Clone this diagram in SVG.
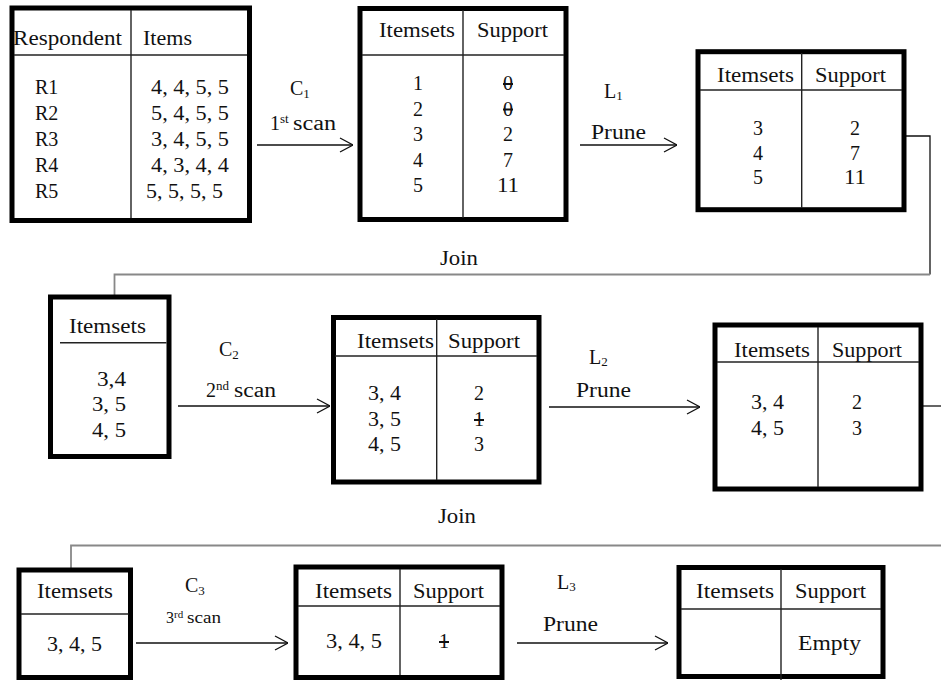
<svg xmlns="http://www.w3.org/2000/svg" width="941" height="681" viewBox="0 0 941 681">
<defs>
<style>
.box{fill:#fff;stroke:#000;stroke-width:5}
.in{stroke:#222;stroke-width:1.4;fill:none}
.t{font-family:'Liberation Serif',serif;font-size:20px;fill:#111}
.s{font-size:13px}
.sm{font-size:16px}
.c{text-anchor:middle}
.x{text-decoration:line-through}
.arr{stroke:#111;stroke-width:1.3;fill:none}
.join{stroke:#888;stroke-width:1.8;fill:none}
</style>
<marker id="ah" viewBox="0 0 14 16" refX="14" refY="8" markerWidth="14" markerHeight="16" markerUnits="userSpaceOnUse" orient="auto">
<path d="M1,1 L14,8 L1,15" fill="none" stroke="#111" stroke-width="1.3"/>
</marker>
</defs>
<rect width="941" height="681" fill="#fff"/>
<g font-family="Liberation Serif">
<g id="connectors">
<line class="arr" x1="257" y1="145" x2="353" y2="145" marker-end="url(#ah)"/>
<line class="arr" x1="580" y1="145" x2="677" y2="145" marker-end="url(#ah)"/>
<line class="arr" x1="178" y1="406" x2="330" y2="406" marker-end="url(#ah)"/>
<line class="arr" x1="549" y1="407" x2="700" y2="407" marker-end="url(#ah)"/>
<line class="arr" x1="136" y1="643" x2="288" y2="643" marker-end="url(#ah)"/>
<line class="arr" x1="517" y1="643" x2="668" y2="643" marker-end="url(#ah)"/>
<path class="arr" d="M906,136 H930 V274.5"/>
<path class="join" d="M930,274.5 H114.5 V295"/>
<path class="arr" d="M923,406 H941"/>
<path class="join" d="M941,545.5 H71 V568"/>
<text class="t" x="440" y="265" textLength="38" lengthAdjust="spacingAndGlyphs">Join</text>
<text class="t" x="438" y="523" textLength="38" lengthAdjust="spacingAndGlyphs">Join</text>
<text class="t" x="290" y="95">C<tspan class="s" dy="3">1</tspan></text>
<text class="t" x="270" y="130">1<tspan class="s" dy="-7">st</tspan><tspan x="293" y="130" textLength="43" lengthAdjust="spacingAndGlyphs">scan</tspan></text>
<text class="t" x="604" y="98">L<tspan class="s" dy="2">1</tspan></text>
<text class="t" x="591" y="139" textLength="55" lengthAdjust="spacingAndGlyphs">Prune</text>
<text class="t" x="219" y="356">C<tspan class="s" dy="3">2</tspan></text>
<text class="t" x="206" y="397">2<tspan class="s" dy="-7">nd</tspan><tspan x="234" y="397" textLength="42" lengthAdjust="spacingAndGlyphs">scan</tspan></text>
<text class="t" x="589" y="364">L<tspan class="s" dy="2">2</tspan></text>
<text class="t" x="576" y="397" textLength="55" lengthAdjust="spacingAndGlyphs">Prune</text>
<text class="t" x="185" y="592">C<tspan class="s" dy="3">3</tspan></text>
<text class="t sm" x="166" y="623">3<tspan style="font-size:11px" dy="-5">rd</tspan><tspan x="187" y="623" textLength="34" lengthAdjust="spacingAndGlyphs">scan</tspan></text>
<text class="t" x="557" y="589">L<tspan class="s" dy="2">3</tspan></text>
<text class="t" x="543" y="631" textLength="55" lengthAdjust="spacingAndGlyphs">Prune</text>
</g>

<g id="db">
<rect class="box" x="12" y="8" width="237.5" height="212.5"/>
<line class="in" x1="131" y1="10" x2="131" y2="218"/>
<line class="in" x1="14" y1="55" x2="247" y2="55"/>
<text class="t" x="13" y="45" textLength="109" lengthAdjust="spacingAndGlyphs">Respondent</text>
<text class="t" x="143" y="45" textLength="49" lengthAdjust="spacingAndGlyphs">Items</text>
<text class="t" x="35" y="94.3">R1</text>
<text class="t" x="35" y="120.3">R2</text>
<text class="t" x="35" y="146.3">R3</text>
<text class="t" x="35" y="172.3">R4</text>
<text class="t" x="35" y="198.3">R5</text>
<text class="t" x="151" y="94.3" textLength="78" lengthAdjust="spacingAndGlyphs">4, 4, 5, 5</text>
<text class="t" x="151" y="120.3" textLength="78" lengthAdjust="spacingAndGlyphs">5, 4, 5, 5</text>
<text class="t" x="151" y="146.3" textLength="78" lengthAdjust="spacingAndGlyphs">3, 4, 5, 5</text>
<text class="t" x="151" y="172.3" textLength="78" lengthAdjust="spacingAndGlyphs">4, 3, 4, 4</text>
<text class="t" x="146" y="198.3" textLength="77" lengthAdjust="spacingAndGlyphs">5, 5, 5, 5</text>
</g>

<g id="c1">
<rect class="box" x="360" y="8.5" width="206" height="211"/>
<line class="in" x1="463" y1="10" x2="463" y2="218"/>
<line class="in" x1="362" y1="55" x2="564" y2="55"/>
<text class="t" x="379" y="37" textLength="76" lengthAdjust="spacingAndGlyphs">Itemsets</text>
<text class="t" x="477" y="37" textLength="71" lengthAdjust="spacingAndGlyphs">Support</text>
<text class="t c" x="418" y="90">1</text>
<text class="t c" x="418" y="115.5">2</text>
<text class="t c" x="418" y="141">3</text>
<text class="t c" x="418" y="166.5">4</text>
<text class="t c" x="418" y="192">5</text>
<text class="t c x" x="508" y="90">0</text>
<text class="t c x" x="508" y="115.5">0</text>
<text class="t c" x="508" y="141">2</text>
<text class="t c" x="508" y="166.5">7</text>
<text class="t c" x="508" y="192" textLength="22" lengthAdjust="spacingAndGlyphs">11</text>
</g>

<g id="l1">
<rect class="box" x="698" y="51.7" width="206" height="158"/>
<line class="in" x1="801.7" y1="53" x2="801.7" y2="208"/>
<line class="in" x1="700" y1="90" x2="902" y2="90"/>
<text class="t" x="717" y="82" textLength="77" lengthAdjust="spacingAndGlyphs">Itemsets</text>
<text class="t" x="815" y="82" textLength="71" lengthAdjust="spacingAndGlyphs">Support</text>
<text class="t c" x="758" y="135">3</text>
<text class="t c" x="758" y="159.5">4</text>
<text class="t c" x="758" y="184">5</text>
<text class="t c" x="855" y="135">2</text>
<text class="t c" x="855" y="159.5">7</text>
<text class="t c" x="855" y="184" textLength="22" lengthAdjust="spacingAndGlyphs">11</text>
</g>

<g id="c2">
<rect class="box" x="50.5" y="297" width="118.5" height="159.5"/>
<line class="in" x1="60" y1="342.7" x2="166.5" y2="342.7"/>
<text class="t" x="69" y="333" textLength="77" lengthAdjust="spacingAndGlyphs">Itemsets</text>
<text class="t" x="97" y="386" textLength="29" lengthAdjust="spacingAndGlyphs">3,4</text>
<text class="t" x="92" y="411" textLength="34" lengthAdjust="spacingAndGlyphs">3, 5</text>
<text class="t" x="92" y="437" textLength="34" lengthAdjust="spacingAndGlyphs">4, 5</text>
</g>

<g id="c2support">
<rect class="box" x="333.5" y="317.5" width="205.5" height="164.5"/>
<line class="in" x1="436.7" y1="319" x2="436.7" y2="480"/>
<line class="in" x1="335" y1="356" x2="537" y2="356"/>
<text class="t" x="357" y="348" textLength="77" lengthAdjust="spacingAndGlyphs">Itemsets</text>
<text class="t" x="448" y="348" textLength="72" lengthAdjust="spacingAndGlyphs">Support</text>
<text class="t" x="368" y="400" textLength="33" lengthAdjust="spacingAndGlyphs">3, 4</text>
<text class="t" x="368" y="426" textLength="33" lengthAdjust="spacingAndGlyphs">3, 5</text>
<text class="t" x="368" y="451" textLength="33" lengthAdjust="spacingAndGlyphs">4, 5</text>
<text class="t c" x="479" y="400">2</text>
<text class="t c x" x="479" y="426">1</text>
<text class="t c" x="479" y="451">3</text>
</g>

<g id="l2">
<rect class="box" x="715" y="325" width="206" height="164"/>
<line class="in" x1="818" y1="327" x2="818" y2="487"/>
<line class="in" x1="717" y1="362" x2="919" y2="362"/>
<text class="t" x="734" y="357" textLength="76" lengthAdjust="spacingAndGlyphs">Itemsets</text>
<text class="t" x="832" y="357" textLength="70" lengthAdjust="spacingAndGlyphs">Support</text>
<text class="t" x="751" y="409" textLength="33" lengthAdjust="spacingAndGlyphs">3, 4</text>
<text class="t" x="751" y="435" textLength="33" lengthAdjust="spacingAndGlyphs">4, 5</text>
<text class="t c" x="857" y="409">2</text>
<text class="t c" x="857" y="435">3</text>
</g>

<g id="c3">
<rect class="box" x="19" y="570" width="111.5" height="107.5"/>
<line class="in" x1="21" y1="614" x2="128.5" y2="614"/>
<text class="t" x="37" y="598" textLength="76" lengthAdjust="spacingAndGlyphs">Itemsets</text>
<text class="t" x="47" y="651" textLength="55" lengthAdjust="spacingAndGlyphs">3, 4, 5</text>
</g>

<g id="c3support">
<rect class="box" x="296" y="567" width="206" height="110.5"/>
<line class="in" x1="400" y1="569" x2="400" y2="675"/>
<line class="in" x1="298" y1="606" x2="500" y2="606"/>
<text class="t" x="315" y="598" textLength="77" lengthAdjust="spacingAndGlyphs">Itemsets</text>
<text class="t" x="413" y="598" textLength="71" lengthAdjust="spacingAndGlyphs">Support</text>
<text class="t" x="326" y="648" textLength="56" lengthAdjust="spacingAndGlyphs">3, 4, 5</text>
<text class="t c x" x="444" y="648">1</text>
</g>

<g id="l3">
<rect class="box" x="679" y="567.5" width="204" height="109"/>
<line class="in" x1="781" y1="569" x2="781" y2="680"/>
<line class="in" x1="681" y1="609" x2="881" y2="609"/>
<text class="t" x="696" y="598" textLength="78" lengthAdjust="spacingAndGlyphs">Itemsets</text>
<text class="t" x="795" y="598" textLength="71" lengthAdjust="spacingAndGlyphs">Support</text>
<text class="t" x="798" y="650" textLength="63" lengthAdjust="spacingAndGlyphs">Empty</text>
</g>
</g>
</svg>
